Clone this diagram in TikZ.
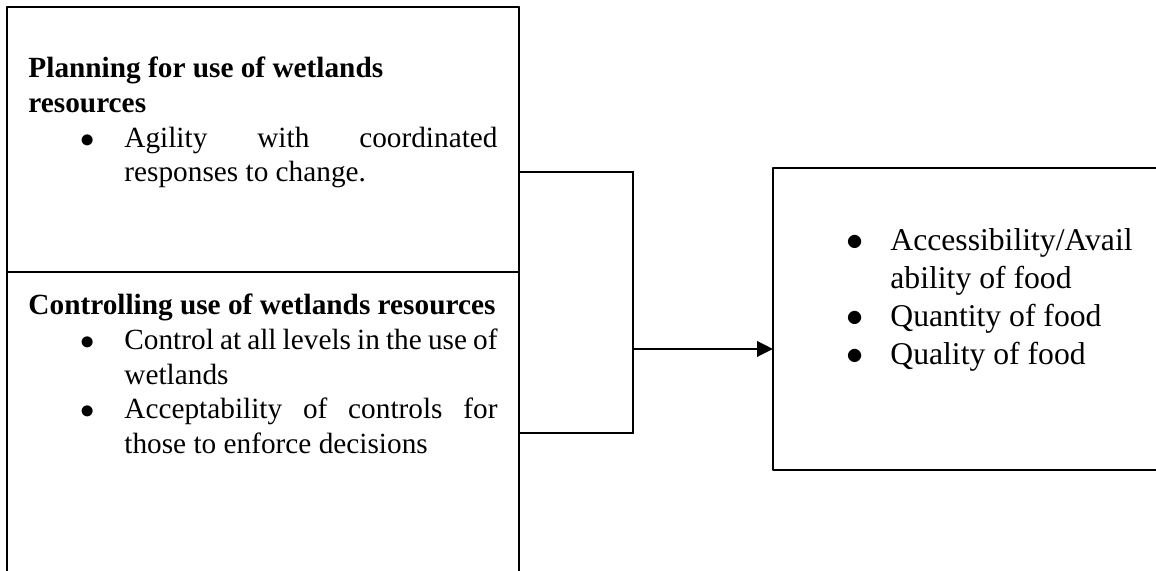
\documentclass[tikz,border=0pt]{standalone}
\usepackage{fontspec}
\setmainfont{Liberation Serif}
\usepackage{tkz-euclide}
\usetikzlibrary{arrows.meta}
\definecolor{LineClr}{rgb}{0,0,0}

\newcommand{\loosespace}{\spaceskip=0.25em plus 0.3em minus 0.12em\relax}
\newenvironment{dotlist}{%
  \begin{list}{$\bullet$}{%
    \setlength{\leftmargin}{40.3pt}%
    \setlength{\labelwidth}{0pt}%
    \setlength{\labelsep}{18.3pt}%
    \setlength{\topsep}{0pt}\setlength{\partopsep}{0pt}%
    \setlength{\parsep}{0pt}\setlength{\itemsep}{0pt}%
    \renewcommand{\makelabel}[1]{\rlap{##1}}}}%
  {\end{list}}

\begin{document}
\begin{tikzpicture}[x=42pt,y=42pt,
  txtbox/.style={inner sep=0pt,anchor=base west,text width=197pt,align=justify,
    font=\fontsize{12.3}{14.5}\selectfont\loosespace},
  outbox/.style={inner sep=0pt,anchor=base west,text width=160pt,align=justify,
    font=\fontsize{13.3}{16}\selectfont}]
\useasboundingbox (0,0) rectangle (11.56,5.71);
\tkzSetUpLine[line width=0.8pt,color=LineClr]

\tkzDefPoints{0.07/5.64/A,5.19/5.64/B,0.07/2.99/C,5.19/2.99/D,0.07/-0.2/E,5.19/-0.2/F}
\tkzDefPoints{5.19/3.99/G,6.33/3.99/H,6.33/1.38/I,5.19/1.38/J,6.33/2.22/K}
\tkzDefPoints{7.73/4.03/M,11.58/4.03/N,11.58/1.01/O,7.73/1.01/P}

% left boxes
\tkzDrawSegments(E,A A,B B,F C,D)
% output box
\tkzDrawPolygon(M,N,O,P)

\node[txtbox] (plan) at (0.28,4.93) {\textbf{Planning for use of wetlands}\newline\textbf{resources}
  \begin{dotlist}
  \item Agility with coordinated\linebreak responses to change.
  \end{dotlist}};

\node[txtbox] (ctrl) at (0.28,2.56) {\mbox{\textbf{Controlling use of wetlands resources}}
  \begin{dotlist}
  \item Control at all levels in the use of\linebreak wetlands
  \item Acceptability of controls for\linebreak those to enforce decisions
  \end{dotlist}};

\node[outbox] (food) at (7.94,3.59) {%
  \begin{dotlist}
  \item Accessibility/Avail\newline ability of food
  \item Quantity of food
  \item Quality of food
  \end{dotlist}};

% connectors
\tkzDrawPolySeg(G,H,I,J)
\coordinate (L) at (P |- K);
\tkzDrawSegment[-{Triangle[length=6.7pt,width=6.5pt]}](K,L)

\end{tikzpicture}
\end{document}
